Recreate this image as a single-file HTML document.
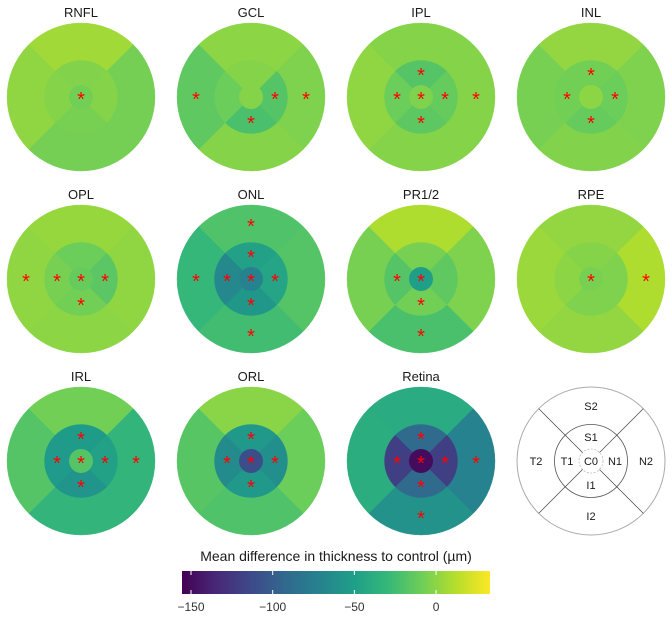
<!DOCTYPE html>
<html><head><meta charset="utf-8"><style>
body{margin:0;background:#fff;}
svg{display:block;font-family:"Liberation Sans",sans-serif;}
</style></head><body>
<svg id="chart" width="672" height="618" viewBox="0 0 672 618"></svg>
<script>
const panels = ["RNFL","GCL","IPL","INL","OPL","ONL","PR1/2","RPE","IRL","ORL","Retina"];
const sectors = ["C0","S1","N1","I1","T1","S2","N2","I2","T2"];
const valRNFL = [-8,-3,-2,-6,-2,6,-7,-7,1];
const valGCL = [-2,-2,-18,-22,-10,0,-4,-2,-14];
const valIPL = [-4,-18,-12,-15,-10,-2,-2,-2,1];
const valINL = [0,-8,-10,-12,-8,2,-4,-3,-6];
const valOPL = [-12,-10,-16,-8,-6,3,1,0,1];
const valONL = [-72,-48,-45,-56,-67,-20,-18,-25,-30];
const valPR = [-50,-6,-14,-8,-18,10,-4,-22,-6];
const valRPE = [-6,-2,-4,-4,0,2,10,2,4];
const valIRL = [-18,-52,-48,-58,-54,-8,-32,-32,-18];
const valORL = [-110,-55,-62,-55,-65,-1,-10,-20,-17];
const valRetina = [-150,-90,-120,-90,-120,-40,-72,-60,-38];
const sigRNFL = [1,0,0,0,0,0,0,0,0];
const sigGCL = [0,0,1,1,0,0,1,0,1];
const sigIPL = [1,1,1,1,1,0,1,0,0];
const sigINL = [0,1,1,1,1,0,0,0,0];
const sigOPL = [1,0,1,1,1,0,0,0,1];
const sigONL = [1,1,1,1,1,1,0,1,1];
const sigPR = [1,0,0,1,1,0,0,1,0];
const sigRPE = [1,0,0,0,0,0,1,0,0];
const sigIRL = [1,1,1,1,1,0,1,0,0];
const sigORL = [1,1,1,1,1,0,0,0,0];
const sigRetina = [1,1,1,1,1,0,1,1,0];
const allVals = [valRNFL,valGCL,valIPL,valINL,valOPL,valONL,valPR,valRPE,valIRL,valORL,valRetina];
const allSig = [sigRNFL,sigGCL,sigIPL,sigINL,sigOPL,sigONL,sigPR,sigRPE,sigIRL,sigORL,sigRetina];
const tickVals = [-150,-100,-50,0];
const tickLabels = ["\u2212150","\u2212100","\u221250","0"];
const vmin = -155.5, vmax = 33;

const NS="http://www.w3.org/2000/svg";
const svg=document.getElementById('chart');
function mk(t,a,p){const e=document.createElementNS(NS,t);for(const k in a)e.setAttribute(k,a[k]);(p||svg).appendChild(e);return e;}
const vir=["#440154","#482878","#3e4989","#31688e","#26828e","#1f9e89","#35b779","#6ece58","#b5de2b","#fde725"];
function hex(h){return [1,3,5].map(i=>parseInt(h.substr(i,2),16));}
function color(v){let t=(v-vmin)/(vmax-vmin);t=Math.max(0,Math.min(1,t));const s=t*(vir.length-1);const i=Math.min(Math.floor(s),vir.length-2);const f=s-i;const a=hex(vir[i]),b=hex(vir[i+1]);return "rgb("+a.map((x,k)=>Math.round(x+(b[k]-x)*f)).join(",")+")";}
const R0=12,R1=36.5,R2=74;
const secAng={S:-90,N:0,I:90,T:180};
function wedge(cx,cy,r,a0,a1){const rad=Math.PI/180;const p=a=>[cx+r*Math.cos(a*rad),cy+r*Math.sin(a*rad)];
return `M${cx},${cy}L${p(a0)}A${r},${r} 0 0 1 ${p(a1)}Z`;}
const cxs=[81,251,421,591], cys=[97,279,461];
function xScale(v){return 182+(v-vmin)/(vmax-vmin)*308;}

panels.forEach((name,pi)=>{
  const cx=cxs[pi%4], cy=cys[Math.floor(pi/4)];
  const g=mk('g',{});
  
  
  const tt=mk('text',{x:cx,y:cy-80,'text-anchor':'middle','font-size':13,fill:'#1a1a1a'},g);
  tt.textContent=name;
  
  
  const vals=allVals[pi], sig=allSig[pi];
  const order=[5,6,7,8,1,2,3,4,0];
  const stars=[];
  order.forEach(si=>{
    const s=sectors[si];const v=vals[si];let el,sx,sy;
    if(s==="C0"){el=mk('circle',{cx:cx,cy:cy,r:R0,fill:color(v)},g);sx=cx;sy=cy;}
    else{const ring=s[1]==="1";const a=secAng[s[0]];const r=ring?R1:R2;
      el=mk('path',{d:wedge(cx,cy,r,a-45,a+45),fill:color(v),stroke:color(v),'stroke-width':0.4},g);
      const rm=ring?24:55;sx=cx+rm*Math.cos(a*Math.PI/180);sy=cy+rm*Math.sin(a*Math.PI/180);}
    
    
    if(sig[si]) stars.push([sx,sy]);
  });
  stars.forEach(p=>{const st=mk('text',{x:p[0],y:p[1]+9,'text-anchor':'middle','font-size':20,fill:'#ff0000'},g);
      st.textContent='*';
      
      });
});
(function(){const cx=591,cy=461;const g=mk('g',{});


mk('circle',{cx:cx,cy:cy,r:R2,fill:'none',stroke:'#aaa','stroke-width':1},g);
mk('circle',{cx:cx,cy:cy,r:R1,fill:'none',stroke:'#555','stroke-width':0.8},g);
mk('circle',{cx:cx,cy:cy,r:R0,fill:'none',stroke:'#bbb','stroke-width':0.8,'stroke-dasharray':'2,1.5'},g);
[45,135,225,315].forEach(a=>{const r=a*Math.PI/180;mk('line',{x1:cx+R0*Math.cos(r),y1:cy+R0*Math.sin(r),x2:cx+R2*Math.cos(r),y2:cy+R2*Math.sin(r),stroke:'#444','stroke-width':0.7},g);});
const lab=[["C0",0,0],["S1",0,-24],["N1",24,0],["I1",0,24],["T1",-24,0],["S2",0,-55],["N2",55,0],["I2",0,55],["T2",-55,0]];
lab.forEach(l=>{const t=mk('text',{x:cx+l[1],y:cy+l[2]+4,'text-anchor':'middle','font-size':11,fill:'#1a1a1a'},g);t.textContent=l[0];

});
})();
const defs=mk('defs',{});const lg=mk('linearGradient',{id:'vg',x1:0,x2:1,y1:0,y2:0},defs);
vir.forEach((c,i)=>mk('stop',{offset:i/(vir.length-1),'stop-color':c},lg));
const cb=mk('rect',{x:182,y:571,width:308,height:23,fill:'url(#vg)'});


const ct=mk('text',{x:336,y:561,'text-anchor':'middle','font-size':14,fill:'#1a1a1a'});
ct.textContent='Mean difference in thickness to control (\u00b5m)';


tickVals.forEach((v,i)=>{const x=xScale(v);
mk('line',{x1:x,x2:x,y1:571,y2:575,stroke:'#fff','stroke-width':1});
mk('line',{x1:x,x2:x,y1:590,y2:594,stroke:'#fff','stroke-width':1});
const t=mk('text',{x:x,y:611,'text-anchor':'middle','font-size':12,fill:'#333'});t.textContent=tickLabels[i];

});
</script>
</body></html>
